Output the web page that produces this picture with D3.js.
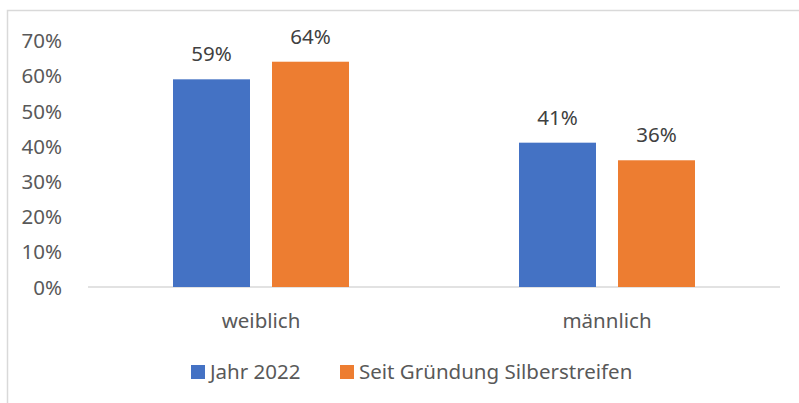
<!DOCTYPE html>
<html>
<head>
<meta charset="utf-8">
<script src="https://cdn.jsdelivr.net/npm/d3@7"></script>
<style>
  body { margin: 0; background: #fff; }
  svg { display: block; font-family: "Noto Sans", sans-serif; }
</style>
</head>
<body>
<div id="wrapper"></div>
<script>
const categories = ["weiblich", "männlich"];
const seriesNames = ["Jahr 2022", "Seit Gründung Silberstreifen"];
const jahr2022 = [0.59, 0.41];
const seitGruendung = [0.64, 0.36];
const yTicks = [0, 0.1, 0.2, 0.3, 0.4, 0.5, 0.6, 0.7];

const colors = ["#4472C4", "#ED7D31"];
const textColor = "#595959";
const fontSize = `20.5px`;

const W = 799, H = 403;
const plot = { left: 88, right: 780, top: 40.6, bottom: 287 };

const svg = d3.select(`#wrapper`)
  .append(`svg`)
  .attr(`width`, W)
  .attr(`height`, H);

// chart frame: only the top and left edges are visible in the crop
svg.append(`path`)
  .attr(`d`, `M7.5,${H} V10.5 H${W}`)
  .attr(`fill`, `none`)
  .attr(`stroke`, `#d9d9d9`)
  .attr(`stroke-width`, 1.5);

const xScale = d3.scaleBand()
  .domain(categories)
  .range([plot.left, plot.right]);

const yScale = d3.scaleLinear()
  .domain([0, 0.7])
  .range([plot.bottom, plot.top]);

const barW = 77, barGap = 22;
const xInner = d3.scaleBand()
  .domain(seriesNames)
  .range([0, barW * 2 + barGap])
  .paddingInner(barGap / (barW + barGap));

const data = categories.map((c, i) => ({
  category: c,
  values: [
    { series: seriesNames[0], value: jahr2022[i] },
    { series: seriesNames[1], value: seitGruendung[i] },
  ],
}));

// y axis labels
const yAxis = svg.append(`g`)
  .attr(`transform`, `translate(65, 0)`)
  .call(d3.axisLeft(yScale).tickValues(yTicks).tickFormat(d3.format(`.0%`)).tickSize(0));
yAxis.select(`.domain`).remove();
yAxis.selectAll(`text`)
  .attr(`fill`, textColor)
  .style(`font-size`, fontSize)
  .style(`font-family`, `"Noto Sans", sans-serif`)
  .attr(`dy`, `0.35em`);

// baseline
svg.append(`line`)
  .attr(`x1`, plot.left)
  .attr(`x2`, plot.right)
  .attr(`y1`, yScale(0))
  .attr(`y2`, yScale(0))
  .attr(`stroke`, `#d9d9d9`)
  .attr(`stroke-width`, 1.5);

const groups = svg.selectAll(`.group`)
  .data(data)
  .join(`g`)
  .attr(`class`, `group`)
  .attr(`transform`, d => `translate(${xScale(d.category) + (xScale.bandwidth() - (barW * 2 + barGap)) / 2}, 0)`);

groups.selectAll(`rect`)
  .data(d => d.values)
  .join(`rect`)
  .attr(`x`, d => xInner(d.series))
  .attr(`y`, d => yScale(d.value))
  .attr(`width`, xInner.bandwidth())
  .attr(`height`, d => yScale(0) - yScale(d.value))
  .attr(`fill`, (d, i) => colors[i]);

groups.selectAll(`.label`)
  .data(d => d.values)
  .join(`text`)
  .attr(`class`, `label`)
  .attr(`x`, d => xInner(d.series) + xInner.bandwidth() / 2)
  .attr(`y`, d => yScale(d.value) - 18)
  .attr(`text-anchor`, `middle`)
  .attr(`fill`, `#404040`)
  .style(`font-size`, fontSize)
  .text(d => d3.format(`.0%`)(d.value));

// category labels
const xAxis = svg.append(`g`)
  .attr(`transform`, `translate(0, ${plot.bottom + 23})`)
  .call(d3.axisBottom(xScale).tickSize(0));
xAxis.select(`.domain`).remove();
xAxis.selectAll(`text`)
  .attr(`fill`, textColor)
  .style(`font-size`, fontSize)
  .style(`font-family`, `"Noto Sans", sans-serif`)
  .attr(`dy`, `0.71em`);

// legend
const legendX = [191, 340];
const legend = svg.selectAll(`.legend`)
  .data(seriesNames)
  .join(`g`)
  .attr(`class`, `legend`)
  .attr(`transform`, (d, i) => `translate(${legendX[i]}, 372)`);

legend.append(`rect`)
  .attr(`x`, 0)
  .attr(`y`, -7)
  .attr(`width`, 14)
  .attr(`height`, 14)
  .attr(`fill`, (d, i) => colors[i]);

legend.append(`text`)
  .attr(`x`, 19)
  .attr(`dy`, `0.35em`)
  .attr(`fill`, textColor)
  .style(`font-size`, fontSize)
  .text(d => d);
</script>
</body>
</html>
